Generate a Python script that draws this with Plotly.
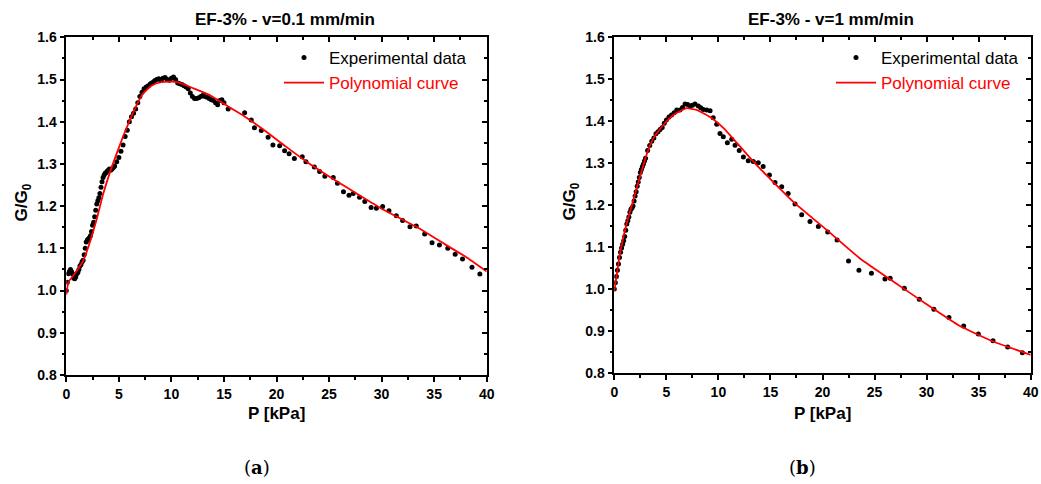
import plotly.graph_objects as go

# ---- data ----
# (a) v = 0.1 mm/min
p_exp_a = [0.0, 0.1, 0.2, 0.3, 0.4, 0.5, 0.6, 0.7, 0.8, 0.9, 1.0, 1.1, 1.2, 1.3, 1.4, 1.5,
           1.6, 1.7, 1.8, 1.9, 2.0, 2.1, 2.2, 2.3, 2.4, 2.5, 2.6, 2.7, 2.8, 2.9, 3.0, 3.1,
           3.2, 3.3, 3.4, 3.5, 3.6, 3.7, 3.8, 3.9, 4.0, 4.1, 4.2, 4.3, 4.4, 4.5, 4.6, 4.8,
           5.0, 5.2, 5.4, 5.6, 5.8, 6.0, 6.2, 6.4, 6.6, 6.8, 7.0, 7.2, 7.4, 7.6, 7.8, 8.0,
           8.2, 8.4, 8.6, 8.8, 9.0, 9.2, 9.4, 9.6, 9.8, 10.0, 10.2, 10.4, 10.6, 10.8, 11.0,
           11.2, 11.4, 11.6, 11.8, 12.0, 12.2, 12.4, 12.6, 12.8, 13.0, 13.2, 13.4, 13.6,
           13.8, 14.0, 14.2, 14.4, 14.6, 14.8, 15.0, 15.4, 16.97, 17.6, 17.9, 18.55, 19.2,
           19.66, 20.3, 20.77, 21.2, 21.7, 22.45, 22.8, 23.6, 24.1, 24.6, 25.4, 25.8, 26.37,
           26.9, 27.3, 27.9, 28.4, 29.0, 29.5, 30.1, 30.7, 31.4, 32.0, 32.7, 33.3, 34.1,
           34.8, 35.5, 36.3, 37.0, 37.7, 38.6, 39.35]
g_exp_a = [1.00, 1.02, 1.04, 1.045, 1.05, 1.045, 1.04, 1.03, 1.028, 1.032, 1.04, 1.043, 1.05,
           1.058, 1.062, 1.068, 1.072, 1.085, 1.10, 1.115, 1.12, 1.122, 1.125, 1.13, 1.14,
           1.155, 1.162, 1.175, 1.19, 1.205, 1.213, 1.22, 1.23, 1.245, 1.258, 1.268, 1.274,
           1.278, 1.28, 1.283, 1.285, 1.288, 1.285, 1.287, 1.29, 1.292, 1.295, 1.305, 1.315,
           1.33, 1.345, 1.365, 1.38, 1.40, 1.412, 1.42, 1.43, 1.445, 1.46, 1.47, 1.478, 1.482,
           1.485, 1.49, 1.493, 1.497, 1.50, 1.502, 1.498, 1.503, 1.505, 1.50, 1.498, 1.503,
           1.506, 1.50, 1.492, 1.49, 1.488, 1.485, 1.482, 1.478, 1.468, 1.46, 1.455, 1.455,
           1.457, 1.46, 1.463, 1.46, 1.458, 1.455, 1.452, 1.45, 1.445, 1.44, 1.45, 1.452,
           1.445, 1.43, 1.421, 1.404, 1.386, 1.379, 1.363, 1.345, 1.343, 1.331, 1.324, 1.313,
           1.317, 1.305, 1.293, 1.282, 1.271, 1.268, 1.254, 1.234, 1.226, 1.230, 1.221, 1.211,
           1.197, 1.195, 1.199, 1.189, 1.177, 1.166, 1.151, 1.153, 1.134, 1.113, 1.108, 1.100,
           1.086, 1.075, 1.055, 1.039]
p_fit_a = [0.0, 0.2, 0.8, 1.6, 2.25, 2.9, 3.5, 4.15, 4.8, 5.4, 6.05, 6.7, 7.3, 8.1, 8.9, 9.85,
           10.6, 12.1, 13.65, 15.4, 17.0, 19.0, 20.9, 23.0, 25.8, 28.0, 30.0, 33.6, 36.0,
           38.0, 40.0]
g_fit_a = [0.99, 1.02, 1.04, 1.07, 1.115, 1.17, 1.228, 1.28, 1.325, 1.365, 1.404, 1.44, 1.467,
           1.485, 1.493, 1.495, 1.494, 1.479, 1.463, 1.436, 1.412, 1.377, 1.341, 1.303, 1.258,
           1.224, 1.194, 1.147, 1.11, 1.08, 1.045]

# (b) v = 1 mm/min
p_exp_b = [0.0, 0.1, 0.2, 0.3, 0.4, 0.5, 0.6, 0.7, 0.8, 0.9, 1.0, 1.1, 1.2, 1.3, 1.4, 1.5,
           1.6, 1.7, 1.8, 1.9, 2.0, 2.1, 2.2, 2.3, 2.4, 2.5, 2.6, 2.7, 2.8, 2.9, 3.0, 3.2,
           3.4, 3.6, 3.8, 4.0, 4.2, 4.4, 4.6, 4.8, 5.0, 5.25, 5.5, 5.75, 6.0, 6.3, 6.55, 6.8,
           7.05, 7.27, 7.5, 7.75, 8.07, 8.3, 8.55, 8.88, 9.2, 9.5, 9.84, 10.15, 10.47, 10.86,
           11.28, 11.6, 12.0, 12.4, 12.87, 13.35, 13.83, 14.3, 14.9, 15.44, 16.08, 16.7,
           17.36, 18.0, 18.8, 19.6, 20.5, 21.4, 22.5, 23.5, 24.7, 26.0, 26.5, 27.86, 29.3,
           30.7, 32.15, 33.56, 34.97, 36.38, 37.79, 39.2]
g_exp_b = [1.0, 1.015, 1.03, 1.045, 1.06, 1.075, 1.088, 1.098, 1.107, 1.115, 1.125, 1.14, 1.155,
           1.163, 1.172, 1.183, 1.19, 1.193, 1.198, 1.21, 1.222, 1.232, 1.245, 1.255, 1.266,
           1.278, 1.285, 1.292, 1.298, 1.305, 1.312, 1.33, 1.342, 1.352, 1.36, 1.37, 1.375,
           1.38, 1.385, 1.395, 1.403, 1.41, 1.415, 1.42, 1.427, 1.427, 1.433, 1.441, 1.44,
           1.436, 1.438, 1.441, 1.436, 1.432, 1.428, 1.427, 1.425, 1.408, 1.393, 1.371, 1.363,
           1.349, 1.357, 1.343, 1.330, 1.315, 1.306, 1.304, 1.301, 1.292, 1.272, 1.254, 1.244,
           1.228, 1.203, 1.177, 1.161, 1.149, 1.136, 1.117, 1.067, 1.045, 1.038, 1.024, 1.026,
           1.002, 0.976, 0.952, 0.932, 0.912, 0.893, 0.877, 0.862, 0.848]
p_fit_b = [0.0, 0.55, 1.19, 1.83, 2.47, 3.1, 3.75, 4.7, 5.67, 6.95, 7.9, 9.2, 10.47, 11.75,
           13.0, 14.0, 15.0, 17.2, 20.4, 23.6, 26.8, 30.0, 33.2, 36.4, 40.0]
g_fit_b = [0.995, 1.085, 1.157, 1.212, 1.268, 1.32, 1.359, 1.391, 1.415, 1.431, 1.427, 1.410,
           1.384, 1.349, 1.314, 1.287, 1.262, 1.208, 1.141, 1.073, 1.018, 0.964, 0.912, 0.875,
           0.843]

titles = ["EF-3% - v=0.1 mm/min", "EF-3% - v=1 mm/min"]
captions = ["(<b>a</b>)", "(<b>b</b>)"]

W, H = 1041, 484
SANS = "Liberation Sans"

fig = go.Figure()

panels = [
    dict(exp=(p_exp_a, g_exp_a), fit=(p_fit_a, g_fit_a), x0=66.3, x1=486.7, y0=37.3, y1=375.0,
         legend="legend", ax="", top="3"),
    dict(exp=(p_exp_b, g_exp_b), fit=(p_fit_b, g_fit_b), x0=614.3, x1=1030.7, y0=37.3, y1=373.0,
         legend="legend2", ax="2", top="4"),
]


def label(text, px, py, size, family=SANS, angle=0):
    fig.add_annotation(text=text, x=px / W, y=1 - py / H, xref="paper", yref="paper",
                       xanchor="center", yanchor="middle", showarrow=False, textangle=angle,
                       font=dict(family=family, size=size, color="black"))


for i, pn in enumerate(panels):
    xa = "x" + pn["ax"]
    ya = "y" + pn["ax"]
    fig.add_trace(go.Scatter(
        x=pn["exp"][0], y=pn["exp"][1], mode="markers",
        marker=dict(color="black", size=5),
        name="Experimental data", legend=pn["legend"], xaxis=xa, yaxis=ya))
    fig.add_trace(go.Scatter(
        x=pn["fit"][0], y=pn["fit"][1], mode="lines",
        line=dict(color="red", width=1.8, shape="spline", smoothing=0.4),
        name='<span style="color:red">Polynomial curve</span>',
        legend=pn["legend"], xaxis=xa, yaxis=ya))
    # invisible copy on the mirrored axes so their inward ticks get drawn
    fig.add_trace(go.Scatter(x=pn["fit"][0], y=pn["fit"][1], mode="lines", opacity=0,
                             xaxis="x" + pn["top"], yaxis="y" + pn["top"],
                             showlegend=False, hoverinfo="skip"))

    xdom = [pn["x0"] / W, pn["x1"] / W]
    ydom = [1 - pn["y1"] / H, 1 - pn["y0"] / H]
    common_x = dict(range=[0, 40], dtick=5, showgrid=False, zeroline=False, automargin=False)
    common_y = dict(range=[0.8, 1.6], dtick=0.1, showgrid=False, zeroline=False, automargin=False)
    k = pn["ax"]
    fig.layout["xaxis" + k] = dict(
        domain=xdom, anchor="y" + k, **common_x,
        ticks="outside", ticklen=5, tickwidth=1.5, tickcolor="black",
        minor=dict(dtick=2.5, ticks="outside", ticklen=3, tickwidth=1.5, tickcolor="black"),
        showline=True, linewidth=1.5, linecolor="black", mirror=True,
        tickfont=dict(family=SANS, size=14, color="black", weight="bold"))
    fig.layout["yaxis" + k] = dict(
        domain=ydom, anchor="x" + k, **common_y, tickformat=".1f",
        ticks="outside", ticklen=5, tickwidth=1.5, tickcolor="black",
        minor=dict(dtick=0.05, ticks="outside", ticklen=3, tickwidth=1.5, tickcolor="black"),
        showline=True, linewidth=1.5, linecolor="black", mirror=True,
        tickfont=dict(family=SANS, size=14, color="black", weight="bold"))
    t = pn["top"]
    fig.layout["xaxis" + t] = dict(
        overlaying="x" + k, side="top", anchor="y" + k, **common_x,
        ticks="inside", ticklen=5, tickwidth=1.5, tickcolor="black", showticklabels=False,
        minor=dict(dtick=2.5, ticks="inside", ticklen=3, tickwidth=1.5, tickcolor="black"))
    fig.layout["yaxis" + t] = dict(
        overlaying="y" + k, side="right", anchor="x" + k, **common_y,
        ticks="inside", ticklen=5, tickwidth=1.5, tickcolor="black", showticklabels=False,
        minor=dict(dtick=0.05, ticks="inside", ticklen=3, tickwidth=1.5, tickcolor="black"))

    cx = (pn["x0"] + pn["x1"]) / 2
    cy = (pn["y0"] + pn["y1"]) / 2
    label(f"<b>{titles[i]}</b>", cx + 8, 20, 17)
    label("<b>P [kPa]</b>", cx, 413, 17)
    label("<b>G/G<sub>0</sub></b>", pn["x0"] - 43, cy - 4, 17, angle=-90)
    label(captions[i], cx - 20, 467, 18, family="DejaVu Serif")

legend_style = dict(font=dict(family=SANS, size=17, color="black"), bgcolor="rgba(0,0,0,0)",
                    xanchor="right", yanchor="top", tracegroupgap=0, itemwidth=40)

fig.update_layout(
    width=W, height=H,
    margin=dict(l=0, r=0, t=0, b=0),
    plot_bgcolor="white", paper_bgcolor="white",
    legend=dict(x=472 / W, y=1 - 40 / H, **legend_style),
    legend2=dict(x=1024 / W, y=1 - 40 / H, **legend_style),
)

fig.write_html("out.html", config={"displayModeBar": False},
               post_script="document.body.style.margin='0';")
